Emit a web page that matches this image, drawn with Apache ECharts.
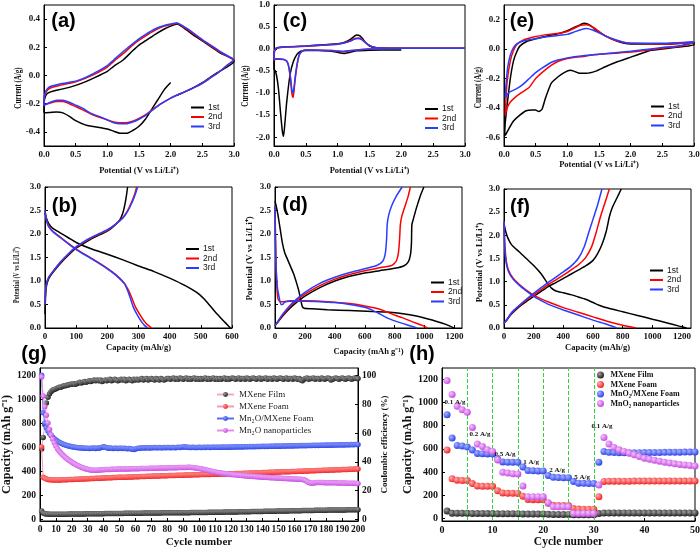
<!DOCTYPE html>
<html><head><meta charset="utf-8">
<script src="https://cdn.jsdelivr.net/npm/echarts@6/dist/echarts.min.js"></script>
<style>html,body{margin:0;padding:0;background:#fff}#c{width:700px;height:550px}</style>
</head><body><div id="c"></div>
<script>
// ---------- DATA ----------
const cycleNames = ['1st','2nd','3rd'];
// (a) CV of MXene film  [V, A/g]
const a1 = [[2.0,-0.05],[1.9,-0.1],[1.8,-0.17],[1.7,-0.24],[1.6,-0.31],[1.5,-0.36],[1.4,-0.39],[1.3,-0.41],[1.2,-0.41],[1.1,-0.395],[1.0,-0.38],[0.9,-0.37],[0.75,-0.36],[0.65,-0.35],[0.5,-0.32],[0.4,-0.29],[0.3,-0.265],[0.2,-0.258],[0.1,-0.262],[0.02,-0.265],[0.0,-0.26],[0.0,-0.2],[0.02,-0.15],[0.06,-0.125],[0.15,-0.11],[0.3,-0.095],[0.5,-0.07],[0.65,-0.045],[0.8,-0.015],[1.0,0.03],[1.1,0.065],[1.25,0.11],[1.4,0.175],[1.5,0.215],[1.6,0.245],[1.75,0.29],[1.9,0.33],[2.0,0.35],[2.1,0.365],[2.2,0.34],[2.35,0.29],[2.5,0.245],[2.65,0.2],[2.8,0.155],[3.0,0.11],[3.0,0.1],[2.85,0.05],[2.7,0.01],[2.5,-0.05],[2.3,-0.1],[2.1,-0.14]];
const a2 = [[3.0,0.11],[2.9,0.075],[2.75,0.02],[2.6,-0.025],[2.5,-0.055],[2.35,-0.09],[2.2,-0.12],[2.0,-0.16],[1.85,-0.2],[1.7,-0.245],[1.6,-0.28],[1.5,-0.305],[1.4,-0.325],[1.3,-0.335],[1.2,-0.335],[1.1,-0.33],[1.0,-0.315],[0.9,-0.3],[0.75,-0.275],[0.6,-0.24],[0.5,-0.22],[0.4,-0.2],[0.3,-0.185],[0.2,-0.185],[0.1,-0.195],[0.03,-0.205],[0.0,-0.21],[0.0,-0.18],[0.02,-0.13],[0.06,-0.1],[0.12,-0.085],[0.25,-0.07],[0.4,-0.055],[0.5,-0.045],[0.65,-0.02],[0.8,0.01],[1.0,0.06],[1.1,0.1],[1.25,0.155],[1.4,0.215],[1.5,0.25],[1.6,0.28],[1.75,0.32],[1.9,0.35],[2.0,0.36],[2.1,0.37],[2.2,0.345],[2.35,0.3],[2.5,0.25],[2.65,0.205],[2.8,0.16],[3.0,0.11]];
const a3 = [[3.0,0.11],[2.9,0.075],[2.75,0.02],[2.6,-0.025],[2.5,-0.055],[2.35,-0.09],[2.2,-0.12],[2.0,-0.16],[1.85,-0.2],[1.7,-0.25],[1.6,-0.285],[1.5,-0.31],[1.4,-0.33],[1.3,-0.342],[1.2,-0.342],[1.1,-0.335],[1.0,-0.315],[0.9,-0.295],[0.75,-0.27],[0.6,-0.23],[0.5,-0.21],[0.4,-0.19],[0.3,-0.175],[0.2,-0.175],[0.1,-0.19],[0.03,-0.205],[0.0,-0.215],[0.0,-0.17],[0.02,-0.12],[0.06,-0.09],[0.12,-0.075],[0.25,-0.06],[0.4,-0.048],[0.5,-0.04],[0.65,-0.015],[0.8,0.018],[1.0,0.07],[1.1,0.11],[1.25,0.17],[1.4,0.225],[1.5,0.26],[1.6,0.29],[1.75,0.33],[1.9,0.355],[2.0,0.365],[2.1,0.372],[2.2,0.35],[2.35,0.305],[2.5,0.255],[2.65,0.21],[2.8,0.165],[3.0,0.115]];
// (c) CV of MXene foam
const c1 = [[2.0,-0.02],[1.7,-0.02],[1.5,-0.025],[1.3,-0.04],[1.2,-0.07],[1.1,-0.1],[1.0,-0.075],[0.9,-0.05],[0.7,-0.035],[0.5,-0.03],[0.42,-0.05],[0.36,-0.12],[0.3,-0.3],[0.25,-0.6],[0.2,-1.2],[0.17,-1.7],[0.15,-1.98],[0.13,-1.85],[0.1,-1.4],[0.07,-0.9],[0.04,-0.6],[0.02,-0.5],[0.0,-0.45],[0.0,-0.15],[0.02,0.0],[0.06,0.03],[0.2,0.05],[0.5,0.07],[0.8,0.1],[1.0,0.12],[1.1,0.15],[1.2,0.22],[1.27,0.3],[1.3,0.32],[1.35,0.3],[1.4,0.22],[1.45,0.13],[1.5,0.07],[1.6,0.03],[1.8,0.02],[2.0,0.02],[2.5,0.02],[3.0,0.02]];
const c2 = [[3.0,0.02],[2.5,0.02],[2.0,0.02],[1.7,0.015],[1.5,0.0],[1.3,-0.02],[1.2,-0.04],[1.1,-0.06],[1.0,-0.05],[0.9,-0.035],[0.7,-0.025],[0.5,-0.02],[0.45,-0.04],[0.4,-0.12],[0.37,-0.3],[0.34,-0.6],[0.31,-1.0],[0.3,-1.1],[0.28,-1.0],[0.26,-0.7],[0.23,-0.4],[0.2,-0.28],[0.15,-0.24],[0.08,-0.23],[0.03,-0.23],[0.0,-0.25],[0.0,-0.1],[0.02,0.0],[0.06,0.03],[0.2,0.045],[0.5,0.065],[0.8,0.09],[1.0,0.11],[1.1,0.14],[1.2,0.19],[1.27,0.24],[1.32,0.25],[1.37,0.23],[1.42,0.17],[1.48,0.1],[1.55,0.05],[1.7,0.025],[2.0,0.02],[2.5,0.02],[3.0,0.02]];
const c3 = [[3.0,0.02],[2.5,0.02],[2.0,0.02],[1.7,0.015],[1.5,0.0],[1.3,-0.02],[1.2,-0.035],[1.1,-0.05],[1.0,-0.045],[0.9,-0.03],[0.7,-0.025],[0.5,-0.02],[0.45,-0.04],[0.4,-0.12],[0.37,-0.28],[0.34,-0.55],[0.31,-0.92],[0.3,-1.0],[0.28,-0.92],[0.26,-0.65],[0.23,-0.38],[0.2,-0.27],[0.15,-0.23],[0.08,-0.22],[0.03,-0.22],[0.0,-0.24],[0.0,-0.1],[0.02,0.0],[0.06,0.035],[0.2,0.05],[0.5,0.07],[0.8,0.095],[1.0,0.115],[1.1,0.14],[1.2,0.18],[1.27,0.23],[1.32,0.24],[1.37,0.22],[1.42,0.17],[1.48,0.1],[1.55,0.05],[1.7,0.025],[2.0,0.02],[2.5,0.02],[3.0,0.02]];
// (e) CV of composite foam
const e1 = [[2.3,-0.01],[2.2,-0.025],[2.0,-0.055],[1.8,-0.085],[1.6,-0.12],[1.45,-0.15],[1.3,-0.165],[1.2,-0.165],[1.1,-0.15],[1.05,-0.145],[0.95,-0.16],[0.85,-0.19],[0.75,-0.23],[0.7,-0.28],[0.65,-0.34],[0.6,-0.41],[0.55,-0.425],[0.5,-0.415],[0.45,-0.415],[0.35,-0.42],[0.25,-0.45],[0.15,-0.49],[0.08,-0.54],[0.03,-0.58],[0.01,-0.59],[0.02,-0.5],[0.05,-0.38],[0.1,-0.2],[0.15,-0.08],[0.2,-0.02],[0.25,0.02],[0.35,0.05],[0.5,0.07],[0.7,0.09],[0.9,0.11],[1.0,0.125],[1.1,0.145],[1.2,0.165],[1.27,0.175],[1.35,0.165],[1.45,0.13],[1.6,0.09],[1.75,0.06],[1.9,0.04],[2.0,0.035],[2.3,0.035],[2.6,0.035],[2.8,0.04],[3.0,0.045],[3.0,0.03],[2.8,0.015],[2.5,0.0],[2.3,-0.01]];
const e2 = [[3.0,0.045],[2.8,0.02],[2.5,0.005],[2.2,-0.01],[2.0,-0.02],[1.75,-0.028],[1.5,-0.036],[1.25,-0.05],[1.0,-0.065],[0.85,-0.085],[0.75,-0.11],[0.6,-0.16],[0.5,-0.2],[0.4,-0.26],[0.3,-0.29],[0.2,-0.32],[0.1,-0.36],[0.05,-0.4],[0.02,-0.45],[0.03,-0.35],[0.05,-0.22],[0.1,-0.08],[0.15,-0.01],[0.2,0.03],[0.3,0.06],[0.5,0.085],[0.7,0.1],[0.9,0.11],[1.0,0.12],[1.1,0.14],[1.2,0.16],[1.3,0.165],[1.4,0.15],[1.5,0.12],[1.6,0.09],[1.75,0.06],[1.9,0.045],[2.0,0.04],[2.5,0.035],[3.0,0.045]];
const e3 = [[3.0,0.05],[2.8,0.025],[2.5,0.01],[2.2,-0.005],[2.0,-0.015],[1.75,-0.025],[1.5,-0.035],[1.25,-0.045],[1.0,-0.06],[0.85,-0.075],[0.75,-0.09],[0.6,-0.13],[0.5,-0.16],[0.4,-0.2],[0.3,-0.24],[0.2,-0.27],[0.1,-0.29],[0.05,-0.31],[0.02,-0.33],[0.03,-0.25],[0.06,-0.12],[0.1,-0.04],[0.15,0.01],[0.2,0.035],[0.3,0.055],[0.5,0.07],[0.7,0.085],[0.9,0.095],[1.0,0.1],[1.1,0.115],[1.2,0.13],[1.3,0.14],[1.4,0.13],[1.5,0.11],[1.6,0.09],[1.75,0.065],[1.9,0.045],[2.0,0.04],[2.5,0.04],[3.0,0.05]];
// (b) GCD MXene film [mAh/g, V]
const b1d = [[0,2.45],[5,2.33],[12,2.22],[25,2.12],[50,2.02],[75,1.92],[100,1.82],[150,1.68],[200,1.57],[250,1.45],[300,1.32],[350,1.2],[400,1.06],[450,0.9],[490,0.74],[520,0.55],[545,0.35],[570,0.17],[585,0.07],[595,0.0]];
const b1c = [[0,0.3],[2,0.7],[5,0.9],[12,1.05],[25,1.18],[50,1.38],[75,1.55],[100,1.7],[125,1.8],[150,1.9],[175,1.98],[200,2.06],[220,2.16],[240,2.3],[250,2.45],[257,2.65],[262,2.85],[265,3.0]];
const b2d = [[0,2.5],[5,2.3],[12,2.17],[25,2.06],[50,1.93],[75,1.8],[100,1.68],[150,1.48],[200,1.27],[230,1.12],[255,0.95],[268,0.8],[278,0.65],[290,0.45],[305,0.28],[320,0.13],[332,0.05],[342,0.0]];
const b2c = [[0,0.5],[2,0.8],[5,0.95],[12,1.08],[25,1.2],[50,1.4],[75,1.57],[100,1.72],[125,1.83],[150,1.92],[175,2.0],[200,2.08],[225,2.2],[250,2.35],[265,2.5],[278,2.68],[288,2.85],[294,3.0]];
const b3d = [[0,2.5],[5,2.28],[12,2.15],[25,2.05],[50,1.92],[75,1.79],[100,1.67],[150,1.47],[200,1.26],[230,1.11],[255,0.94],[265,0.8],[273,0.65],[283,0.45],[296,0.28],[310,0.13],[320,0.05],[330,0.0]];
const b3c = [[0,0.5],[2,0.8],[5,0.95],[12,1.08],[25,1.2],[50,1.41],[75,1.58],[100,1.73],[125,1.84],[150,1.93],[175,2.01],[200,2.09],[225,2.2],[250,2.34],[265,2.48],[280,2.68],[290,2.85],[297,3.0]];
// (d) GCD MXene foam
const d1d = [[0,2.7],[8,2.6],[20,2.4],[35,2.1],[50,1.8],[65,1.6],[85,1.45],[105,1.3],[125,1.15],[145,0.95],[160,0.78],[172,0.6],[182,0.46],[195,0.42],[250,0.41],[350,0.39],[500,0.37],[650,0.35],[750,0.34],[820,0.32],[900,0.28],[980,0.23],[1050,0.17],[1120,0.1],[1170,0.04],[1195,0.0]];
const d1c = [[0,0.05],[25,0.15],[50,0.25],[100,0.42],[150,0.56],[200,0.68],[300,0.86],[400,1.0],[500,1.1],[600,1.17],[700,1.22],[800,1.27],[860,1.32],[890,1.4],[905,1.55],[912,1.8],[915,2.2],[925,2.32],[945,2.55],[970,2.8],[995,3.0]];
const d2d = [[0,2.6],[3,2.0],[7,1.4],[12,0.9],[20,0.62],[35,0.56],[60,0.56],[100,0.58],[200,0.58],[300,0.57],[400,0.55],[500,0.52],[600,0.47],[700,0.4],[780,0.3],[850,0.22],[920,0.13],[980,0.06],[1020,0.0]];
const d2c = [[0,0.05],[25,0.16],[50,0.27],[100,0.45],[150,0.6],[200,0.72],[300,0.9],[400,1.04],[500,1.14],[600,1.22],[700,1.28],[780,1.33],[810,1.42],[825,1.6],[833,1.9],[838,2.2],[848,2.38],[870,2.6],[890,2.8],[905,3.0]];
const d3d = [[0,2.6],[3,1.9],[7,1.3],[15,0.9],[25,0.7],[40,0.5],[50,0.5],[65,0.55],[100,0.57],[200,0.57],[300,0.56],[400,0.54],[500,0.5],[600,0.44],[650,0.38],[700,0.3],[760,0.2],[830,0.12],[890,0.06],[950,0.0]];
const d3c = [[0,0.05],[25,0.17],[50,0.29],[100,0.48],[150,0.63],[200,0.76],[300,0.95],[400,1.08],[500,1.18],[600,1.26],[680,1.33],[720,1.42],[738,1.6],[746,1.9],[750,2.2],[760,2.4],[780,2.6],[810,2.8],[850,3.0]];
// (f) GCD composite foam
const f1d = [[0,2.25],[10,2.1],[25,1.95],[50,1.8],[100,1.65],[150,1.5],[200,1.35],[250,1.17],[290,0.98],[320,0.86],[350,0.8],[400,0.76],[450,0.72],[500,0.67],[550,0.62],[600,0.55],[650,0.48],[700,0.43],[800,0.35],[900,0.27],[1000,0.19],[1100,0.11],[1180,0.04],[1230,0.0]];
const f1c = [[0,0.1],[25,0.2],[50,0.3],[100,0.45],[150,0.57],[200,0.68],[250,0.79],[300,0.9],[350,0.98],[400,1.07],[450,1.16],[500,1.25],[550,1.34],[600,1.46],[630,1.6],[660,1.8],[690,2.1],[710,2.4],[730,2.6],[760,2.8],[790,3.0]];
const f2d = [[0,2.3],[3,2.0],[8,1.7],[15,1.45],[30,1.25],[60,1.08],[100,0.95],[150,0.82],[200,0.71],[250,0.63],[300,0.56],[400,0.44],[500,0.34],[600,0.24],[700,0.14],[800,0.06],[890,0.0]];
const f2c = [[0,0.1],[25,0.2],[50,0.32],[100,0.47],[150,0.6],[200,0.72],[250,0.83],[300,0.94],[350,1.04],[400,1.14],[450,1.25],[500,1.36],[550,1.52],[590,1.75],[620,2.05],[650,2.4],[680,2.7],[710,3.0]];
const f3d = [[0,2.3],[3,1.9],[8,1.6],[15,1.4],[30,1.22],[60,1.06],[100,0.93],[150,0.8],[200,0.68],[250,0.59],[300,0.51],[400,0.39],[500,0.28],[600,0.17],[700,0.07],[760,0.0]];
const f3c = [[0,0.1],[25,0.21],[50,0.33],[100,0.48],[150,0.62],[200,0.75],[250,0.87],[300,0.99],[350,1.1],[400,1.21],[450,1.33],[500,1.5],[540,1.75],[570,2.05],[600,2.35],[630,2.65],[660,3.0]];
// (g) cycling, one value per cycle (1..200)
const gNames = ['MXene Film','MXene Foam','Mn\u2082O/MXene Foam','Mn\u2082O nanoparticles'];
const gFilm = [68,52,46,44,43,42,42,41,41,41, 41,41,42,42,42,42,42,43,43,43, 43,43,43,44,44,44,44,44,45,45, 45,45,45,45,46,46,46,46,46,46, 47,47,47,47,47,47,48,48,48,48, 48,48,49,49,49,49,49,49,50,50, 50,50,50,50,51,51,51,51,51,51, 52,52,52,52,52,52,53,53,53,53, 53,53,54,54,54,54,54,54,55,55, 55,55,55,55,56,56,56,56,56,56, 57,57,57,57,57,58,58,58,58,58, 59,59,59,59,59,60,60,60,60,60, 61,61,61,61,62,62,62,62,63,63, 63,63,64,64,64,64,65,65,65,65, 66,66,66,66,67,67,67,67,68,68, 68,68,69,69,69,69,70,70,70,70, 71,71,71,71,72,72,72,72,73,73, 73,73,74,74,74,74,75,75,75,75, 76,76,76,76,77,77,77,77,78,78, 78,78,79,79,79,79,80,80,80,80];
const gFoam = [605,352,342,336,333,331,330,329,329,328, 328,329,329,330,330,331,331,332,332,333, 333,334,334,335,336,336,337,337,338,339, 339,340,340,341,342,342,343,343,344,345, 345,346,346,347,347,348,348,349,350,350, 351,351,352,352,353,353,354,354,355,355, 356,356,357,357,358,358,359,359,360,360, 361,361,362,362,362,363,363,364,364,364, 365,365,366,366,366,367,367,368,368,368, 369,369,370,370,370,371,371,372,372,372, 373,373,374,374,374,375,375,376,376,376, 377,377,378,378,378,379,379,380,380,380, 381,381,382,382,382,383,383,384,384,385, 385,386,386,387,387,388,388,389,389,390, 390,391,391,392,392,393,393,394,394,395, 395,396,396,397,397,398,398,399,399,400, 400,401,401,402,402,403,403,404,404,405, 405,406,406,407,407,408,408,409,409,410, 410,411,411,412,412,413,413,414,414,415, 415,416,416,417,417,418,418,419,419,420];
const gComp = [1205,890,805,765,738,718,700,686,672,662, 652,644,637,631,626,621,617,613,610,607, 604,602,600,598,597,596,595,594,594,593, 592,594,593,595,592,596,594,597,603,606, 601,597,594,595,593,592,594,593,591,593, 594,592,593,591,590,592,589,586,584,587, 591,594,595,596,597,596,598,597,596,598, 597,599,598,597,599,598,597,599,598,600, 599,598,600,599,598,600,601,599,602,604, 606,603,601,600,599,601,600,599,600,601, 600,599,601,600,602,601,600,602,601,603, 602,601,603,602,604,603,602,604,603,605, 604,605,604,606,605,606,605,607,606,607, 606,608,607,608,607,609,608,609,608,610, 609,610,609,611,610,611,610,612,611,612, 611,613,612,613,612,614,613,614,613,615, 614,615,614,616,615,616,615,617,616,617, 616,618,617,618,617,619,618,619,618,620, 619,620,619,621,620,621,620,622,621,622, 621,623,622,623,622,624,623,624,624,625];
const gNano = [1190,1030,940,870,805,750,705,668,638,612, 590,571,555,541,528,516,505,495,486,477, 469,461,454,447,441,435,430,425,421,417, 414,412,410,409,409,410,411,412,413,414, 415,415,416,416,417,417,418,418,419,419, 420,420,420,421,421,421,422,422,422,423, 423,423,424,424,424,425,425,425,426,426, 426,427,427,427,428,428,428,429,429,429, 430,430,430,431,431,431,432,432,432,433, 433,433,434,434,433,432,431,429,427,425, 422,419,416,413,410,407,404,401,398,395, 393,390,388,386,384,382,380,378,377,375, 374,372,371,369,368,367,365,364,363,362, 361,360,359,358,357,356,355,354,353,352, 351,350,349,348,347,347,346,345,344,344, 343,342,341,341,340,339,339,338,337,337, 336,335,335,334,333,330,324,316,308,303, 301,302,305,307,308,308,307,307,306,306, 305,305,305,304,304,304,303,303,303,302, 302,302,301,301,301,300,300,300,299,299];
const gCE = [49,57,66,81,85,87.5,89,90,90.5,91, 91.5,92,92,92.5,93,93,93.5,93.5,94,94, 94.5,94,94.5,95,95.5,95,95.5,96,95.5,96, 96.5,96,96.5,97,96.5,97,96.5,97,96,96.5, 97,96.5,97,97.5,96.5,97,97.5,97,96.5,97, 97.5,97,97.5,96.5,97,97.5,97,96.5,97.5,97, 97.5,97,97.5,98,97,97.5,98,97,97.5,98, 97.5,97,98,97.5,97,98,97.5,97,97.5,98, 98,97.5,98,98.5,97.5,98,97.5,98.5,98,97.5, 98,98.5,97.5,98,97.5,98,98.5,97.5,98,97.5, 98,97.5,98,98.5,97.5,98,97.5,98,98.5,97.5, 98,97.5,98,97.5,98,98.5,97.5,98,97.5,98, 98.5,98,97.5,98,98.5,97.5,98,98,97.5,98.5, 98,97.5,98,98.5,98,97.5,98,98.5,97.5,98, 98,98.5,97.5,98,98,97.5,98.5,98,97.5,98, 98.5,98,97.5,98,98.5,97.5,98,98,97.5,98.5, 98,97.5,98,97,96.5,97.5,98,98.5,97.5,98, 98,98.5,97.5,98,98,97.5,98.5,98,97.5,98, 98.5,98,97,97.5,98,98.5,98,97.5,98,98.5, 98,97.5,98,98.5,98,97.5,98,98.5,98,98];
// (h) rate capability, cycles 1..50
const hNames = ['MXene Film','MXene Foam','MnO\u2082/MXene Foam','MnO\u2082 nanoparticles'];
const hFilm = [62,42,42,42,42,40,40,40,40,40,38,38,38,38,38,36,35,35,35,35,33,32,32,32,32,30,29,29,29,29,40,45,45,45,45,45,45,45,45,45,45,45,45,45,45,45,45,45,45,45];
const hFoam = [590,340,328,325,325,300,278,275,275,275,237,218,215,215,214,190,162,160,160,160,128,112,110,110,110,84,78,77,77,77,185,318,320,320,320,320,320,321,321,321,321,321,322,322,322,322,322,322,322,322];
const hComp = [896,693,629,625,615,590,560,558,556,555,512,487,484,484,483,443,412,410,409,409,370,353,351,350,350,318,303,301,300,300,484,577,570,568,567,567,566,567,567,568,568,569,569,570,570,571,571,572,572,573];
const hNano = [1191,1070,968,939,916,785,641,620,591,577,504,397,390,385,383,278,185,185,185,185,133,98,98,98,98,41,41,41,41,41,287,698,641,612,591,577,562,548,533,519,510,502,493,484,477,470,465,461,456,452];
const rateBounds = [5,10,15,20,25,30];
const rateLabels = ['0.1 A/g','0.2 A/g','0.5 A/g','1 A/g','2 A/g','5 A/g','0.1 A/g'];
// tick values
const cvXTicks = [0,0.5,1.0,1.5,2.0,2.5,3.0];
const aYTicks = [-0.4,-0.2,0,0.2,0.4];
const cYTicks = [-2.0,-1.5,-1.0,-0.5,0,0.5,1.0];
const eYTicks = [-0.6,-0.4,-0.2,0,0.2];
const vTicks = [0,0.5,1.0,1.5,2.0,2.5,3.0];
const bXTicks = [0,100,200,300,400,500,600];
const dXTicks = [0,200,400,600,800,1000,1200];
const gXTicks = [0,10,20,30,40,50,60,70,80,90,100,110,120,130,140,150,160,170,180,190,200];
const capTicks = [0,200,400,600,800,1000,1200];
const ceTicks = [0,20,40,60,80,100];
const hXTicks = [0,10,20,30,40,50];

// ---------- CHART ----------
const SERIF = '"Liberation Serif","Times New Roman",serif';
const SANS = '"Liberation Sans",Arial,sans-serif';
const fmt1 = v => Number(v).toFixed(1);
const fmt0 = v => String(Math.round(v));
const BLACK = '#000000', RED = '#ff0000', BLUE = '#2a3cff';

function valAxis(gi, min, max, ticks, o) {
  o = o || {};
  return {
    type: 'value', gridIndex: gi, min: min, max: max, position: o.position,
    name: o.name, nameLocation: 'middle', nameGap: o.nameGap || 20,
    nameTextStyle: {fontFamily: SERIF, fontWeight: 'bold', fontSize: o.nameSize || 8.5, color: '#111'},
    axisLine: {show: true, onZero: false, lineStyle: {color: '#000', width: 1}},
    axisTick: {show: true, inside: true, length: 3, customValues: ticks, lineStyle: {color: '#000'}},
    axisLabel: {customValues: ticks, formatter: o.fmt || fmt0, margin: o.margin || 4,
      fontFamily: SERIF, fontWeight: 'bold', fontSize: o.labelSize || 9, color: '#111'},
    splitLine: {show: false}
  };
}
function lineS(name, data, color, idx, yIdx) {
  return {type: 'line', name: name, data: data, xAxisIndex: idx, yAxisIndex: yIdx === undefined ? idx : yIdx,
    showSymbol: false, symbol: 'none', smooth: 0.2, lineStyle: {color: color, width: 1.5},
    itemStyle: {color: color}, silent: true, animation: false};
}
function ball(base, light) {
  return {type: 'radial', x: 0.35, y: 0.35, r: 0.75,
    colorStops: [{offset: 0, color: light}, {offset: 1, color: base}]};
}
const withCycle = arr => arr.map((v, i) => [i + 1, v]);

const grids = [
  {left: 44, top: 5, width: 190, height: 141},
  {left: 274, top: 5, width: 191, height: 141},
  {left: 504, top: 5, width: 190, height: 141},
  {left: 45, top: 187, width: 187, height: 141},
  {left: 275, top: 187, width: 187, height: 141},
  {left: 504, top: 189, width: 187, height: 139},
  {left: 40, top: 368, width: 318, height: 153},
  {left: 442, top: 368, width: 253, height: 153}
].map(g => Object.assign({show: true, borderColor: '#000', borderWidth: 1, containLabel: false, outerBoundsMode: 'none'}, g));

const potName = 'Potential (V vs Li/Li\u207A)';
const xAxes = [
  valAxis(0, 0, 3, cvXTicks, {fmt: fmt1, name: potName, nameGap: 20}),
  valAxis(1, 0, 3, cvXTicks, {fmt: fmt1, name: potName, nameGap: 20}),
  valAxis(2, 0, 3, cvXTicks, {fmt: fmt1, name: potName, nameGap: 10}),
  valAxis(3, 0, 600, bXTicks, {name: 'Capacity (mAh/g)', nameGap: 15}),
  valAxis(4, 0, 1250, dXTicks, {name: 'Capacity (mAh g\u207B\u00B9)', nameGap: 19}),
  valAxis(5, 0, 1260, dXTicks, {name: 'Capacity (mAh/g)', nameGap: 15}),
  valAxis(6, 0, 200, gXTicks, {name: 'Cycle number', nameGap: 16, nameSize: 11, labelSize: 9.5}),
  valAxis(7, 0, 50, hXTicks, {name: 'Cycle number', nameGap: 15, nameSize: 11.5, labelSize: 10})
];
const yAxes = [
  valAxis(0, -0.5, 0.5, aYTicks, {fmt: fmt1}),
  valAxis(1, -2.2, 1.0, cYTicks, {fmt: fmt1}),
  valAxis(2, -0.66, 0.3, eYTicks, {fmt: fmt1}),
  valAxis(3, 0, 3, vTicks, {fmt: fmt1}),
  valAxis(4, 0, 3, vTicks, {fmt: fmt1}),
  valAxis(5, 0, 3, vTicks, {fmt: fmt1}),
  valAxis(6, -15, 1265, capTicks, {name: 'Capacity (mAh g\u207B\u00B9)', nameGap: 24, nameSize: 12, labelSize: 9.5}),
  valAxis(6, -1.25, 105.4, ceTicks, {name: 'Coulombic efficiency (%)', nameGap: 19, nameSize: 9, labelSize: 9.5, position: 'right'}),
  valAxis(7, -25, 1300, capTicks, {name: 'Capacity (mAh g\u207B\u00B9)', nameGap: 27, nameSize: 12, labelSize: 10})
];

const series = [
  lineS('1st', a1, BLACK, 0), lineS('2nd', a2, RED, 0), lineS('3rd', a3, BLUE, 0),
  lineS('1st', c1, BLACK, 1), lineS('2nd', c2, RED, 1), lineS('3rd', c3, BLUE, 1),
  lineS('1st', e1, BLACK, 2), lineS('2nd', e2, RED, 2), lineS('3rd', e3, BLUE, 2),
  lineS('1st', b1d, BLACK, 3), lineS('1st', b1c, BLACK, 3), lineS('2nd', b2d, RED, 3), lineS('2nd', b2c, RED, 3), lineS('3rd', b3d, BLUE, 3), lineS('3rd', b3c, BLUE, 3),
  lineS('1st', d1d, BLACK, 4), lineS('1st', d1c, BLACK, 4), lineS('2nd', d2d, RED, 4), lineS('2nd', d2c, RED, 4), lineS('3rd', d3d, BLUE, 4), lineS('3rd', d3c, BLUE, 4),
  lineS('1st', f1d, BLACK, 5), lineS('1st', f1c, BLACK, 5), lineS('2nd', f2d, RED, 5), lineS('2nd', f2c, RED, 5), lineS('3rd', f3d, BLUE, 5), lineS('3rd', f3c, BLUE, 5)
];

// (g) cycling series
const gStyle = [
  {data: gFilm, base: '#111111', light: '#9a9a9a', line: '#f3a6cc'},
  {data: gFoam, base: '#ee1111', light: '#ff9a9a', line: '#f59ab8'},
  {data: gComp, base: '#1f35e0', light: '#8fa0ff', line: '#5a6cf0'},
  {data: gNano, base: '#c23fd8', light: '#f0b0ff', line: '#e28fe8'}
];
gStyle.forEach((s, i) => {
  series.push({type: 'line', name: gNames[i], data: withCycle(s.data), xAxisIndex: 6, yAxisIndex: 6,
    symbol: 'circle', symbolSize: 5.5, showSymbol: true, animation: false, silent: true,
    lineStyle: {color: s.line, width: 1}, itemStyle: {color: ball(s.base, s.light), borderWidth: 0}, z: 3 + i});
  if (i === 0) {
    series.push({type: 'line', name: 'CE', data: withCycle(gCE), xAxisIndex: 6, yAxisIndex: 7,
      symbol: 'circle', symbolSize: 5.5, showSymbol: true, animation: false, silent: true,
      lineStyle: {color: '#f3a6cc', width: 1}, itemStyle: {color: ball('#111111', '#9a9a9a')}, z: 3});
  }
});
// (h) rate series
const hStyle = [
  {data: hFilm, base: '#111111', light: '#a0a0a0'},
  {data: hFoam, base: '#f01010', light: '#ffb0b0'},
  {data: hComp, base: '#1f35e8', light: '#a8b4ff'},
  {data: hNano, base: '#c03ddc', light: '#f4c4ff'}
];
hStyle.forEach((s, i) => {
  const sr = {type: 'scatter', name: hNames[i], data: withCycle(s.data), xAxisIndex: 7, yAxisIndex: 8,
    symbol: 'circle', symbolSize: 7, animation: false, silent: true,
    itemStyle: {color: ball(s.base, s.light), opacity: 1}, z: 3 + i};
  if (i === 0) {
    sr.markLine = {silent: true, symbol: 'none', label: {show: false}, animation: false,
      lineStyle: {color: '#3bd13b', type: 'dashed', width: 1}, data: rateBounds.map(v => ({xAxis: v}))};
  }
  series.push(sr);
});

function cycLegend(left, top) {
  return {left: left, top: top, orient: 'vertical', padding: 0, itemGap: 0.5, itemWidth: 13, itemHeight: 2,
    icon: 'rect', selectedMode: false, data: cycleNames,
    textStyle: {fontFamily: SANS, fontSize: 8.5, lineHeight: 9, color: '#111', padding: [0, 0, 0, -1]}};
}
const legends = [
  cycLegend(191, 103), cycLegend(425, 104.5), cycLegend(651, 102),
  cycLegend(186, 244.5), cycLegend(431, 278), cycLegend(650, 266),
  {left: 216, top: 390, orient: 'vertical', padding: 0, itemGap: 3, itemWidth: 17, itemHeight: 6,
    selectedMode: false, data: gNames,
    textStyle: {fontFamily: SERIF, fontSize: 9, color: '#222'}},
  {left: 597, top: 371, orient: 'vertical', padding: 0, itemGap: 1.5, itemWidth: 10, itemHeight: 7,
    selectedMode: false,
    data: hNames.map((n, i) => ({name: n, icon: 'circle', itemStyle: {color: ball(hStyle[i].base, hStyle[i].light)}})),
    textStyle: {fontFamily: SERIF, fontWeight: 'bold', fontSize: 8, color: '#111'}}
];

// y-axis titles of the six small panels (condensed like the original figure)
const yTitles = [
  ['Current (A/g)', 18, 88, 10, 0.7], ['Current (A/g)', 245.5, 86, 10, 0.7], ['Current (A/g)', 478, 87.5, 10, 0.7],
  [potName, 17, 275, 8.5, 0.7], [potName, 250, 258.5, 9, 1], [potName, 480, 262.5, 8.5, 1]
];
const panelLetters = [['(a)', 63.5, 21], ['(c)', 295, 21], ['(e)', 522, 21.5], ['(b)', 64.5, 206.5],
  ['(d)', 295, 205], ['(f)', 520, 207], ['(g)', 34, 354], ['(h)', 422, 354]];
const rateLabelPos = [[455, 402], [480, 434], [505, 454], [531, 462], [557, 470], [582, 477], [602, 426]];
const graphics = panelLetters.map(p => ({type: 'text', x: p[1], y: p[2], z: 100,
  style: {text: p[0], font: 'bold 20px ' + SANS, fill: '#000', align: 'center', verticalAlign: 'middle'}}))
  .concat(rateLabels.map((t, i) => ({type: 'text', x: rateLabelPos[i][0], y: rateLabelPos[i][1], z: 100,
    style: {text: t, font: 'bold 7px ' + SERIF, fill: '#111', align: 'center', verticalAlign: 'middle'}})))
  .concat(yTitles.map(t => ({type: 'text', x: t[1], y: t[2], rotation: Math.PI / 2, scaleX: t[4], scaleY: 1, z: 100,
    style: {text: t[0], font: 'bold ' + t[3] + 'px ' + SERIF, fill: '#111', align: 'center', verticalAlign: 'middle'}})));

const chart = echarts.init(document.getElementById('c'), null, {renderer: 'canvas'});
chart.setOption({
  animation: false, backgroundColor: '#fff',
  grid: grids, xAxis: xAxes, yAxis: yAxes, series: series, legend: legends, graphic: graphics
});
</script></body></html>
